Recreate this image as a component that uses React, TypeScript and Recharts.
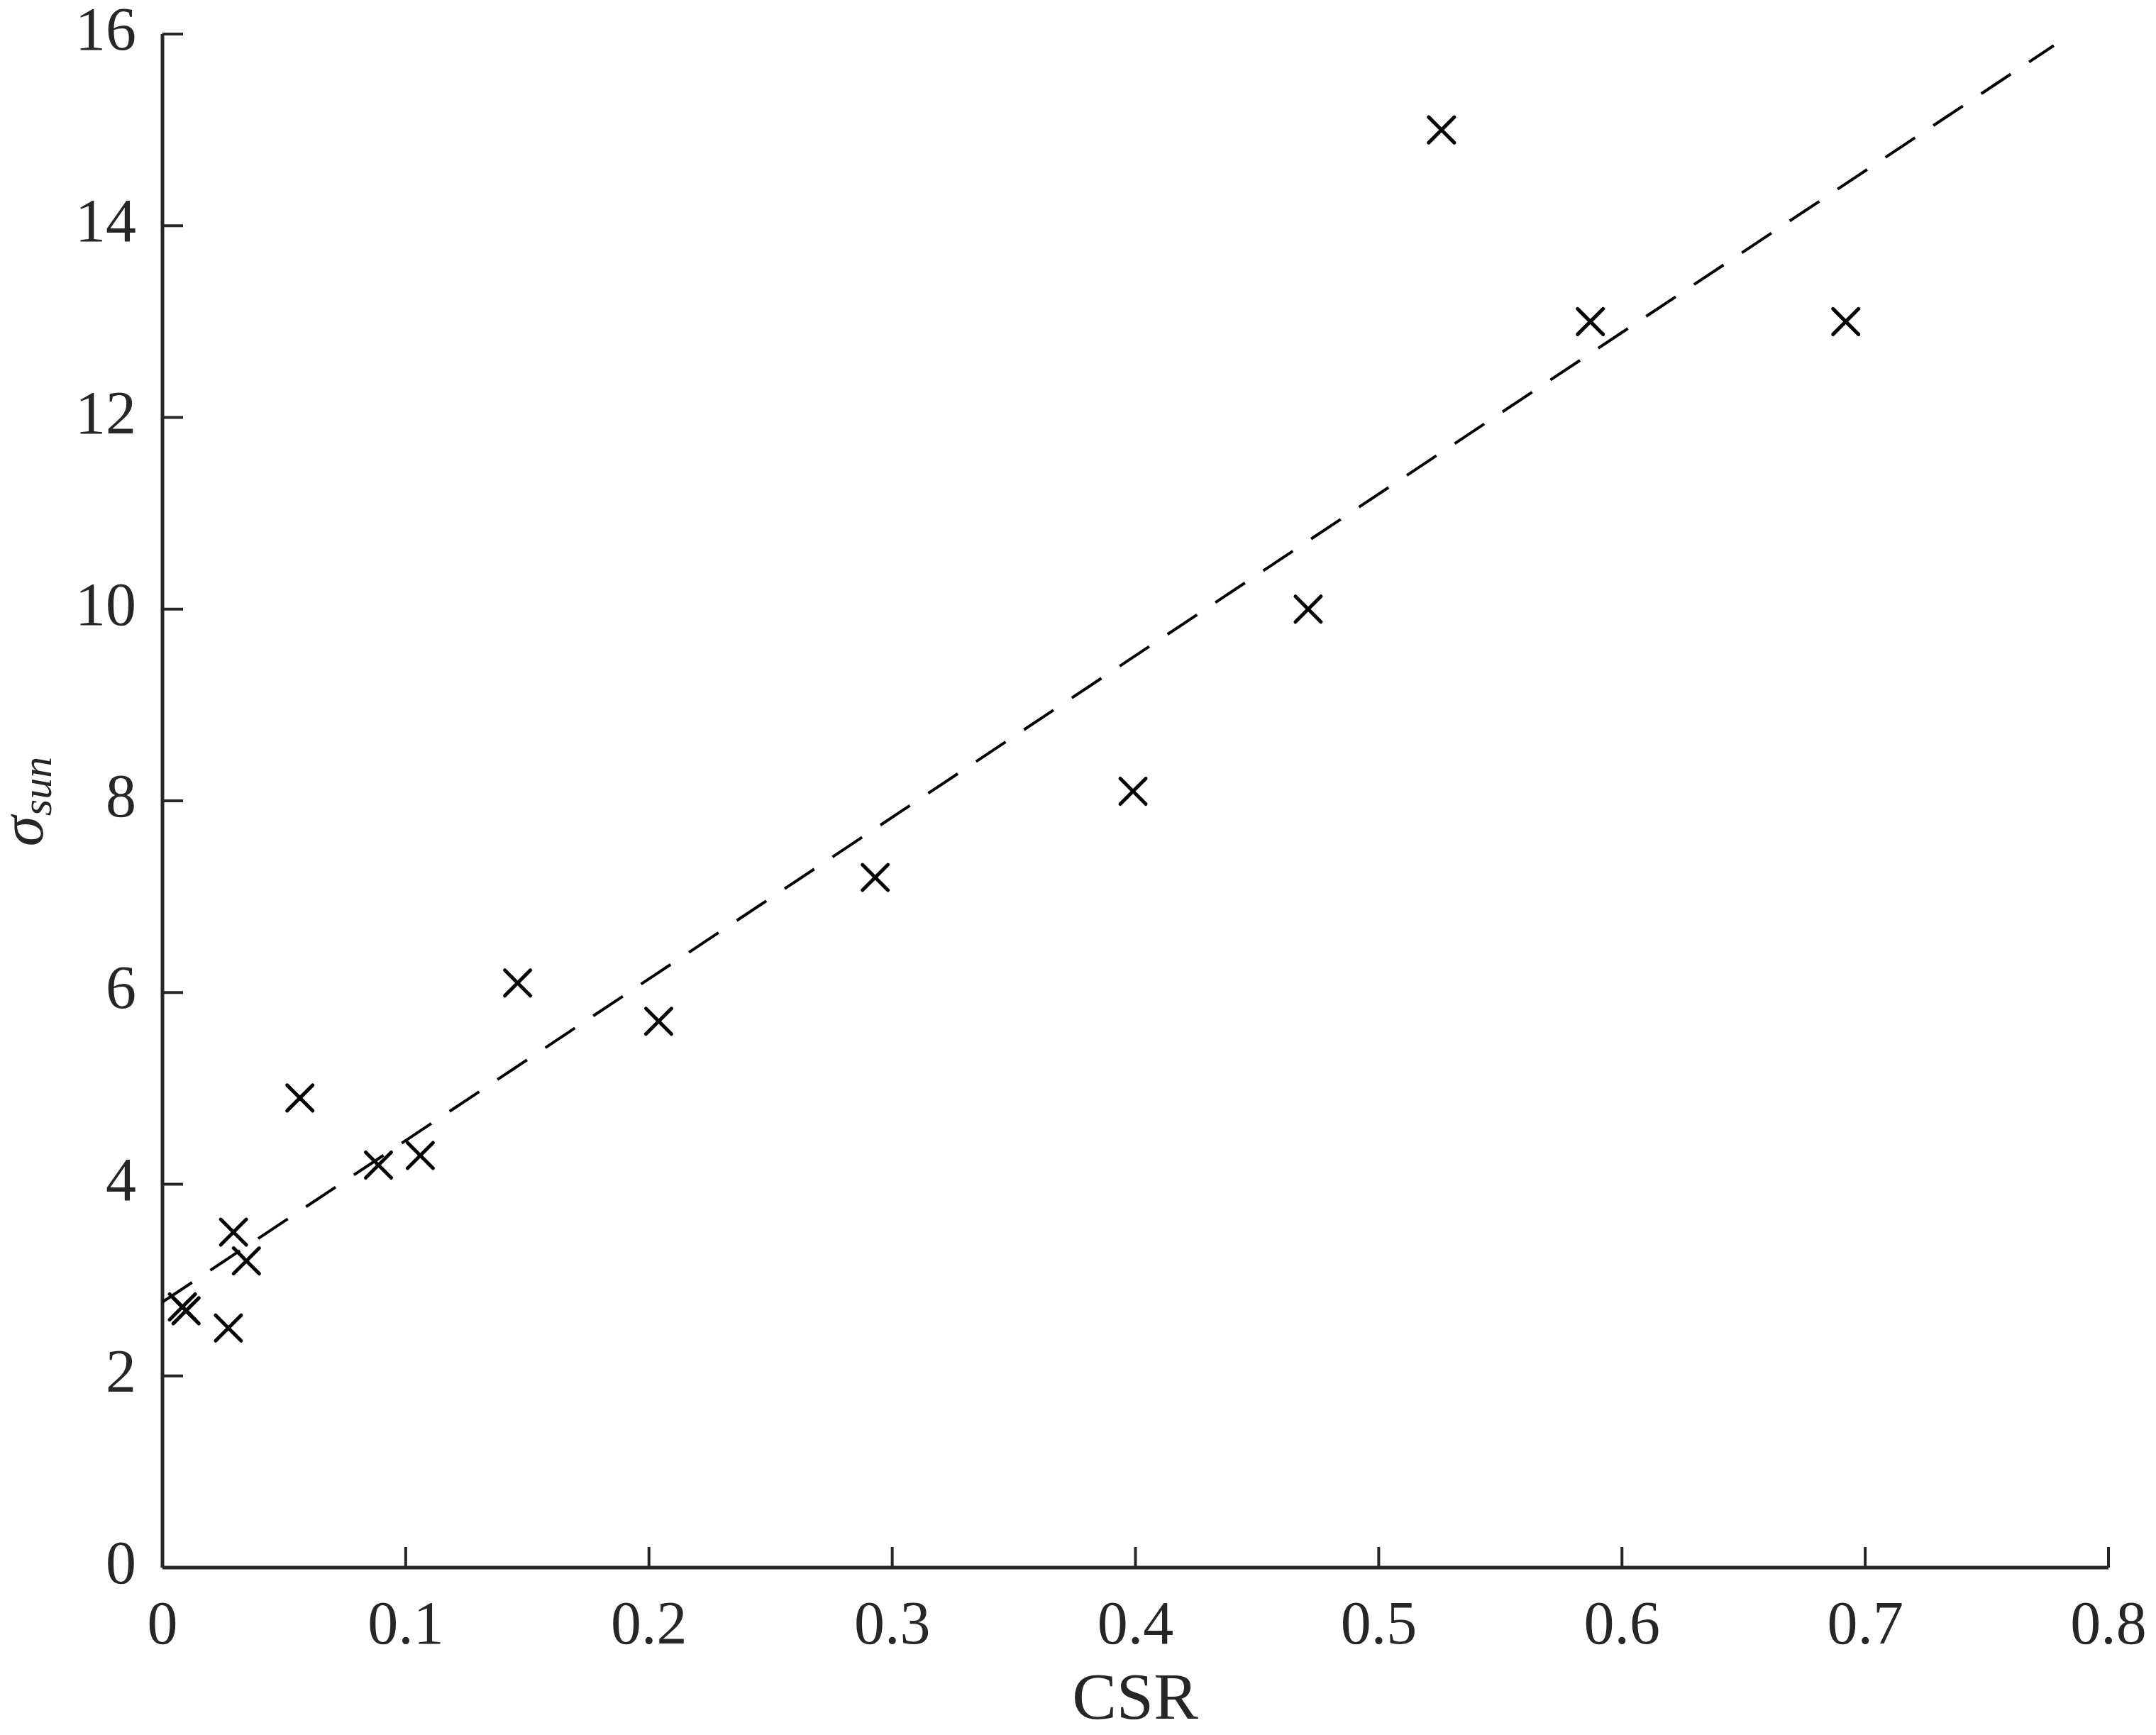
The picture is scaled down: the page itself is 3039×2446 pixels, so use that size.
import React from "react";
import { ScatterChart, Scatter, XAxis, YAxis } from "recharts";

// measured points (CSR vs sigma_sun)
const csrValues: number[] = [
  0.0082, 0.0097, 0.0271, 0.0292, 0.0345, 0.0565, 0.0888, 0.106, 0.146, 0.204,
  0.293, 0.399, 0.471, 0.5258, 0.587, 0.692,
];
const sigmaValues: number[] = [
  2.72, 2.68, 2.5, 3.5, 3.2, 4.9, 4.2, 4.3, 6.1, 5.7, 7.2, 8.1, 10.0, 15.0,
  13.0, 13.0,
];

// dashed fit line end points
const fitCsr: number[] = [0, 0.7775];
const fitSigma: number[] = [2.77, 15.88];

const xTicks: number[] = [0, 0.1, 0.2, 0.3, 0.4, 0.5, 0.6, 0.7, 0.8];
const yTicks: number[] = [0, 2, 4, 6, 8, 10, 12, 14, 16];

const points = csrValues.map((x, i) => ({ x, y: sigmaValues[i] }));
const fitLine = fitCsr.map((x, i) => ({ x, y: fitSigma[i] }));

// layout
const W = 3023;
const H = 2430;
const PLOT_LEFT = 221;
const PLOT_TOP = 40;
const PLOT_RIGHT = 2964;
const PLOT_BOTTOM = 2202;
const TICK_LEN = 29;
const AXIS_COLOR = "#262626";
const FONT = "'Liberation Serif', 'Times New Roman', serif";

const BottomTick = (props: any) => {
  const { x, payload } = props;
  return (
    <g>
      <line x1={x} x2={x} y1={PLOT_BOTTOM} y2={PLOT_BOTTOM - TICK_LEN} stroke={AXIS_COLOR} strokeWidth={4} />
      <text x={x} y={PLOT_BOTTOM + 107} textAnchor="middle" fontSize={86} fontFamily={FONT} fill={AXIS_COLOR}>
        {payload.value}
      </text>
    </g>
  );
};

const TopTick = (props: any) => {
  const { x } = props;
  return <line x1={x} x2={x} y1={PLOT_TOP} y2={PLOT_TOP + TICK_LEN} stroke={AXIS_COLOR} strokeWidth={4} />;
};

const LeftTick = (props: any) => {
  const { y, payload } = props;
  return (
    <g>
      <line x1={PLOT_LEFT} x2={PLOT_LEFT + TICK_LEN} y1={y} y2={y} stroke={AXIS_COLOR} strokeWidth={4} />
      <text x={184} y={y + 22} textAnchor="end" fontSize={86} fontFamily={FONT} fill={AXIS_COLOR}>
        {payload.value}
      </text>
    </g>
  );
};

const RightTick = (props: any) => {
  const { y } = props;
  return <line x1={PLOT_RIGHT} x2={PLOT_RIGHT - TICK_LEN} y1={y} y2={y} stroke={AXIS_COLOR} strokeWidth={4} />;
};

const Cross = (props: any) => {
  const { cx, cy } = props;
  const s = 18;
  return (
    <g stroke="#000" strokeWidth={5} strokeLinecap="round">
      <line x1={cx - s} y1={cy - s} x2={cx + s} y2={cy + s} />
      <line x1={cx - s} y1={cy + s} x2={cx + s} y2={cy - s} />
    </g>
  );
};

const NoShape = () => <g />;

const xLabel = () => (
  <text x={1592} y={2415} textAnchor="middle" fontSize={94} fontFamily={FONT} fill={AXIS_COLOR}>
    CSR
  </text>
);

const yLabel = () => (
  <text transform="translate(52,1122) rotate(-90)" textAnchor="middle" fontFamily={FONT} fill={AXIS_COLOR}>
    <tspan fontSize={87} fontStyle="italic">σ</tspan>
    <tspan fontSize={60} fontStyle="italic" dy={12}>sun</tspan>
  </text>
);

export default function App() {
  return (
    <ScatterChart
      width={W}
      height={H}
      margin={{ top: PLOT_TOP, right: W - PLOT_RIGHT, bottom: H - PLOT_BOTTOM - 100, left: PLOT_LEFT - 200 }}
      style={{ background: "#fff", overflow: "visible" }}
    >
      <XAxis
        xAxisId="b"
        type="number"
        dataKey="x"
        orientation="bottom"
        domain={[0, 0.8]}
        ticks={xTicks}
        allowDataOverflow
        height={100}
        axisLine={{ stroke: AXIS_COLOR, strokeWidth: 5 }}
        tickLine={false}
        tick={<BottomTick />}
        label={xLabel}
      />
      <XAxis
        xAxisId="t"
        type="number"
        dataKey="x"
        orientation="top"
        domain={[0, 0.8]}
        ticks={xTicks}
        allowDataOverflow
        height={0}
        axisLine={{ stroke: AXIS_COLOR, strokeWidth: 5 }}
        tickLine={false}
        tick={<TopTick />}
      />
      <YAxis
        yAxisId="l"
        type="number"
        dataKey="y"
        orientation="left"
        domain={[0, 16]}
        ticks={yTicks}
        allowDataOverflow
        width={200}
        axisLine={{ stroke: AXIS_COLOR, strokeWidth: 5 }}
        tickLine={false}
        tick={<LeftTick />}
        label={yLabel}
      />
      <YAxis
        yAxisId="r"
        type="number"
        dataKey="y"
        orientation="right"
        domain={[0, 16]}
        ticks={yTicks}
        allowDataOverflow
        width={0}
        axisLine={{ stroke: AXIS_COLOR, strokeWidth: 5 }}
        tickLine={false}
        tick={<RightTick />}
      />
      <Scatter
        data={fitLine}
        xAxisId="b"
        yAxisId="l"
        shape={NoShape}
        line={{ stroke: "#000", strokeWidth: 4, strokeDasharray: "50 31" }}
        isAnimationActive={false}
      />
      <Scatter data={points} xAxisId="b" yAxisId="l" shape={Cross} isAnimationActive={false} />
    </ScatterChart>
  );
}
